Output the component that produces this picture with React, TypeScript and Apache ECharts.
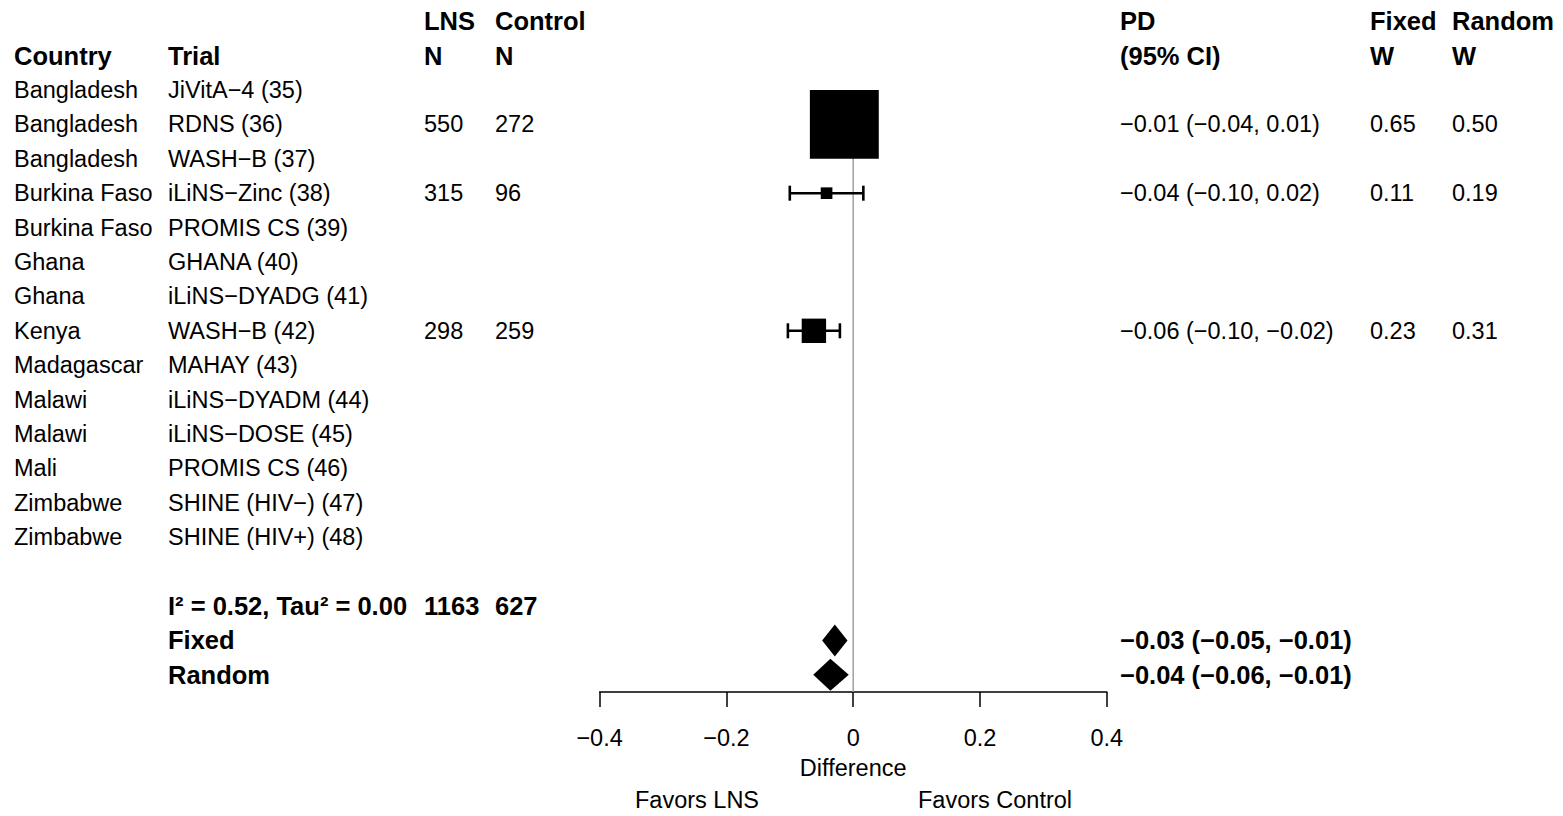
import React, { useEffect, useRef } from "react";
import * as echarts from "echarts";

// ---------- data ----------
const countries = [
  "Bangladesh", "Bangladesh", "Bangladesh", "Burkina Faso", "Burkina Faso", "Ghana", "Ghana",
  "Kenya", "Madagascar", "Malawi", "Malawi", "Mali", "Zimbabwe", "Zimbabwe",
];
const trials = [
  "JiVitA\u22124 (35)", "RDNS (36)", "WASH\u2212B (37)", "iLiNS\u2212Zinc (38)", "PROMIS CS (39)",
  "GHANA (40)", "iLiNS\u2212DYADG (41)", "WASH\u2212B (42)", "MAHAY (43)", "iLiNS\u2212DYADM (44)",
  "iLiNS\u2212DOSE (45)", "PROMIS CS (46)", "SHINE (HIV\u2212) (47)", "SHINE (HIV+) (48)",
];
const lnsN: (number | null)[] = [null, 550, null, 315, null, null, null, 298, null, null, null, null, null, null];
const controlN: (number | null)[] = [null, 272, null, 96, null, null, null, 259, null, null, null, null, null, null];
const estimate: (number | null)[] = [null, -0.014, null, -0.042, null, null, null, -0.062, null, null, null, null, null, null];
const lower: (number | null)[] = [null, -0.04, null, -0.1, null, null, null, -0.103, null, null, null, null, null, null];
const upper: (number | null)[] = [null, 0.01, null, 0.016, null, null, null, -0.021, null, null, null, null, null, null];
const weightFixed: (number | null)[] = [null, 0.65, null, 0.11, null, null, null, 0.23, null, null, null, null, null, null];
const weightRandom: (number | null)[] = [null, 0.5, null, 0.19, null, null, null, 0.31, null, null, null, null, null, null];

const pooledLabels = ["Fixed", "Random"];
const pooledEstimate = [-0.029, -0.036];
const pooledLower = [-0.049, -0.063];
const pooledUpper = [-0.009, -0.007];
const i2 = 0.52;
const tau2 = 0.0;

const xTicks = [-0.4, -0.2, 0, 0.2, 0.4];

// ---------- layout / style ----------
const FONT = '"Liberation Sans", Arial, Helvetica, sans-serif';
const FS = 23.5;
const FS_BOLD = 25.5;
const COL = { country: 14, trial: 168, lns: 424, ctrl: 495, pd: 1120, wf: 1370, wr: 1452 };
const BOX_PX_PER_WEIGHT = 106;
const DIAMOND_HALF_H = 16;
const CAP_HALF = 7.5;

const fmt = (v: number) => (v < 0 ? "\u2212" : "") + Math.abs(v).toFixed(2);
const ciText = (e: number, l: number, h: number) => `${fmt(e)} (${fmt(l)}, ${fmt(h)})`;

type Cell = { x: number; row: number; text: string; bold?: boolean };

function buildCells(): Cell[] {
  const cells: Cell[] = [];
  // headers
  cells.push({ x: COL.lns, row: -2, text: "LNS", bold: true });
  cells.push({ x: COL.ctrl, row: -2, text: "Control", bold: true });
  cells.push({ x: COL.pd, row: -2, text: "PD", bold: true });
  cells.push({ x: COL.wf, row: -2, text: "Fixed", bold: true });
  cells.push({ x: COL.wr, row: -2, text: "Random", bold: true });
  cells.push({ x: COL.country, row: -1, text: "Country", bold: true });
  cells.push({ x: COL.trial, row: -1, text: "Trial", bold: true });
  cells.push({ x: COL.lns, row: -1, text: "N", bold: true });
  cells.push({ x: COL.ctrl, row: -1, text: "N", bold: true });
  cells.push({ x: COL.pd, row: -1, text: "(95% CI)", bold: true });
  cells.push({ x: COL.wf, row: -1, text: "W", bold: true });
  cells.push({ x: COL.wr, row: -1, text: "W", bold: true });
  // studies
  countries.forEach((c, i) => {
    cells.push({ x: COL.country, row: i, text: c });
    cells.push({ x: COL.trial, row: i, text: trials[i] });
    if (lnsN[i] != null) cells.push({ x: COL.lns, row: i, text: String(lnsN[i]) });
    if (controlN[i] != null) cells.push({ x: COL.ctrl, row: i, text: String(controlN[i]) });
    if (estimate[i] != null)
      cells.push({ x: COL.pd, row: i, text: ciText(estimate[i]!, lower[i]!, upper[i]!) });
    if (weightFixed[i] != null) cells.push({ x: COL.wf, row: i, text: weightFixed[i]!.toFixed(2) });
    if (weightRandom[i] != null) cells.push({ x: COL.wr, row: i, text: weightRandom[i]!.toFixed(2) });
  });
  const hetRow = countries.length + 1;
  const lnsTotal = lnsN.reduce((s: number, v) => s + (v ?? 0), 0);
  const ctrlTotal = controlN.reduce((s: number, v) => s + (v ?? 0), 0);
  cells.push({ x: COL.trial, row: hetRow, text: `I\u00B2 = ${i2.toFixed(2)}, Tau\u00B2 = ${tau2.toFixed(2)}`, bold: true });
  cells.push({ x: COL.lns, row: hetRow, text: String(lnsTotal), bold: true });
  cells.push({ x: COL.ctrl, row: hetRow, text: String(ctrlTotal), bold: true });
  pooledLabels.forEach((lab, k) => {
    const row = hetRow + 1 + k;
    cells.push({ x: COL.trial, row, text: lab, bold: true });
    cells.push({ x: COL.pd, row, text: ciText(pooledEstimate[k], pooledLower[k], pooledUpper[k]), bold: true });
  });
  return cells;
}

export default function App() {
  const ref = useRef<HTMLDivElement>(null);
  useEffect(() => {
    if (!ref.current) return;
    const chart = echarts.init(ref.current, undefined, { renderer: "svg" });
    const cells = buildCells();
    const nStudies = countries.length;
    const lastRow = nStudies + 3;

    const studyData = estimate
      .map((e, i) => (e == null ? null : [e, i, lower[i], upper[i], weightFixed[i]]))
      .filter((d) => d != null) as number[][];
    const pooledData = pooledEstimate.map((e, k) => [e, nStudies + 2 + k, pooledLower[k], pooledUpper[k]]);

    chart.setOption({
      animation: false,
      grid: { left: 599.6, right: 1563 - 1106.8, top: 4, bottom: 124 },
      xAxis: {
        type: "value",
        min: -0.4,
        max: 0.4,
        interval: 0.2,
        axisLine: { onZero: false, lineStyle: { color: "#000", width: 1.5 } },
        axisTick: { length: 15, lineStyle: { color: "#000", width: 1.5 } },
        splitLine: { show: false },
        axisLabel: {
          color: "#000",
          fontSize: FS,
          fontFamily: FONT,
          margin: 34,
          customValues: xTicks,
          formatter: (v: number) => (v === 0 ? "0" : (v < 0 ? "\u2212" : "") + Math.abs(v).toFixed(1)),
        },
        name: "Difference",
        nameLocation: "middle",
        nameGap: 64,
        nameTextStyle: { color: "#000", fontSize: FS, fontFamily: FONT },
      },
      yAxis: {
        type: "value",
        inverse: true,
        min: -2.5,
        max: lastRow + 0.5,
        show: false,
        splitLine: { show: false },
      },
      graphic: [
        {
          type: "text",
          x: 697,
          y: 800,
          style: { text: "Favors LNS", fill: "#000", fontSize: FS, fontFamily: FONT, align: "center", verticalAlign: "middle" },
        },
        {
          type: "text",
          x: 995,
          y: 800,
          style: { text: "Favors Control", fill: "#000", fontSize: FS, fontFamily: FONT, align: "center", verticalAlign: "middle" },
        },
      ],
      series: [
        {
          type: "custom",
          name: "ref",
          data: [[0, 0, lastRow + 0.5]],
          renderItem: (params: any, api: any) => {
            const a = api.coord([api.value(0), api.value(1)]);
            const b = api.coord([api.value(0), api.value(2)]);
            return {
              type: "line",
              shape: { x1: a[0], y1: a[1], x2: b[0], y2: b[1] },
              style: { stroke: "#a0a0a0", lineWidth: 1.5 },
            };
          },
        },
        {
          type: "custom",
          name: "studies",
          data: studyData,
          renderItem: (params: any, api: any) => {
            const c = api.coord([api.value(0), api.value(1)]);
            const l = api.coord([api.value(2), api.value(1)]);
            const h = api.coord([api.value(3), api.value(1)]);
            const s = api.value(4) * BOX_PX_PER_WEIGHT;
            const ls = { stroke: "#000", lineWidth: 2.6 };
            return {
              type: "group",
              children: [
                { type: "line", shape: { x1: l[0], y1: c[1], x2: h[0], y2: c[1] }, style: ls },
                { type: "line", shape: { x1: l[0], y1: c[1] - CAP_HALF, x2: l[0], y2: c[1] + CAP_HALF }, style: ls },
                { type: "line", shape: { x1: h[0], y1: c[1] - CAP_HALF, x2: h[0], y2: c[1] + CAP_HALF }, style: ls },
                { type: "rect", shape: { x: c[0] - s / 2, y: c[1] - s / 2, width: s, height: s }, style: { fill: "#000" } },
              ],
            };
          },
        },
        {
          type: "custom",
          name: "pooled",
          data: pooledData,
          renderItem: (params: any, api: any) => {
            const c = api.coord([api.value(0), api.value(1)]);
            const l = api.coord([api.value(2), api.value(1)]);
            const h = api.coord([api.value(3), api.value(1)]);
            return {
              type: "polygon",
              shape: {
                points: [
                  [l[0], c[1]],
                  [c[0], c[1] - DIAMOND_HALF_H],
                  [h[0], c[1]],
                  [c[0], c[1] + DIAMOND_HALF_H],
                ],
              },
              style: { fill: "#000" },
            };
          },
        },
        {
          type: "custom",
          name: "table",
          data: cells.map((c) => [0, c.row]),
          renderItem: (params: any, api: any) => {
            const cell = cells[params.dataIndex];
            const y = api.coord([0, api.value(1)])[1];
            return {
              type: "text",
              x: cell.x,
              y,
              style: {
                text: cell.text,
                fill: "#000",
                fontSize: cell.bold ? FS_BOLD : FS,
                fontFamily: FONT,
                fontWeight: cell.bold ? "bold" : "normal",
                align: "left",
                verticalAlign: "middle",
              },
            };
          },
        },
      ],
    });
    return () => chart.dispose();
  }, []);
  return <div ref={ref} style={{ position: "absolute", left: 0, top: 0, width: 1563, height: 816 }} />;
}
